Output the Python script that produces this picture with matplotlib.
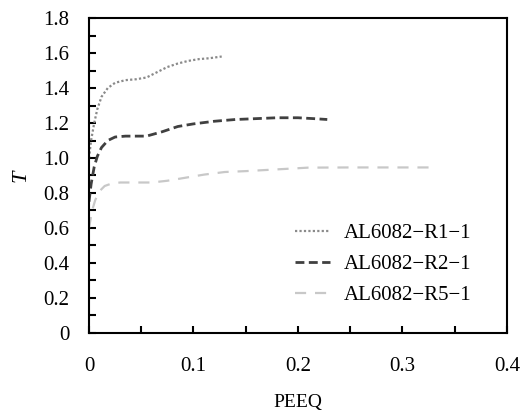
import matplotlib
matplotlib.use("Agg")
import matplotlib.pyplot as plt
from matplotlib.ticker import MultipleLocator, FuncFormatter

# data
r1_peeq = [0, 0.002, 0.005, 0.008, 0.012, 0.018, 0.025, 0.035, 0.045, 0.055,
           0.065, 0.075, 0.085, 0.095, 0.105, 0.115, 0.127]
r1_t = [1.0, 1.1, 1.2, 1.28, 1.35, 1.40, 1.43, 1.445, 1.45, 1.46,
        1.49, 1.52, 1.54, 1.555, 1.565, 1.57, 1.58]

r2_peeq = [0, 0.002, 0.005, 0.008, 0.012, 0.018, 0.025, 0.035, 0.045, 0.055,
           0.07, 0.085, 0.1, 0.12, 0.14, 0.16, 0.18, 0.2, 0.215, 0.228]
r2_t = [0.75, 0.85, 0.95, 1.01, 1.06, 1.10, 1.12, 1.125, 1.125, 1.125,
        1.15, 1.18, 1.195, 1.21, 1.22, 1.225, 1.23, 1.23, 1.225, 1.22]

r5_peeq = [0, 0.003, 0.006, 0.01, 0.015, 0.022, 0.03, 0.045, 0.06, 0.075,
           0.09, 0.11, 0.13, 0.15, 0.18, 0.21, 0.25, 0.29, 0.325]
r5_t = [0.6, 0.7, 0.76, 0.81, 0.84, 0.855, 0.86, 0.86, 0.86, 0.87,
        0.885, 0.905, 0.92, 0.925, 0.935, 0.945, 0.946, 0.946, 0.946]

labels = ["AL6082\u2212R1\u22121", "AL6082\u2212R2\u22121", "AL6082\u2212R5\u22121"]

plt.rcParams["font.family"] = "Liberation Serif"
plt.rcParams["font.size"] = 15

fig = plt.figure(figsize=(5.31, 4.19), dpi=100)
ax = fig.add_axes([0.1676, 0.2053, 0.7872, 0.7517])

ax.plot(r1_peeq, r1_t, color="#8a8a8a", lw=1.6, linestyle=(0, (1, 1)), label=labels[0])
ax.plot(r2_peeq, r2_t, color="#404040", lw=2.0, linestyle=(0, (3.2, 1.6)), label=labels[1])
ax.plot(r5_peeq, r5_t, color="#c8c8c8", lw=1.6, linestyle=(0, (5, 4)), label=labels[2])

ax.set_xlim(0, 0.4)
ax.set_ylim(0, 1.8)
ax.xaxis.set_major_locator(MultipleLocator(0.1))
ax.xaxis.set_minor_locator(MultipleLocator(0.05))
ax.yaxis.set_major_locator(MultipleLocator(0.2))
ax.yaxis.set_minor_locator(MultipleLocator(0.1))
fmt = FuncFormatter(lambda v, p: "0" if abs(v) < 1e-9 else "%.1f" % v)
ax.xaxis.set_major_formatter(fmt)
ax.yaxis.set_major_formatter(fmt)
ax.tick_params(which="both", direction="in", length=5, width=1.5, top=False, right=False)
ax.tick_params(axis="x", which="major", pad=17)
ax.tick_params(axis="y", which="major", pad=14)
for s in ax.spines.values():
    s.set_linewidth(1.5)

ax.set_xlabel("PEEQ", labelpad=13, fontsize=14)
ax.set_ylabel("T", style="italic", labelpad=9, fontsize=16)

ax.legend(loc="upper left", bbox_to_anchor=(0.493, 0.347), frameon=False,
          borderpad=0, borderaxespad=0, handlelength=1.7, handletextpad=0.65,
          labelspacing=0.55, fontsize=15)

fig.savefig("out.png", dpi=100)
